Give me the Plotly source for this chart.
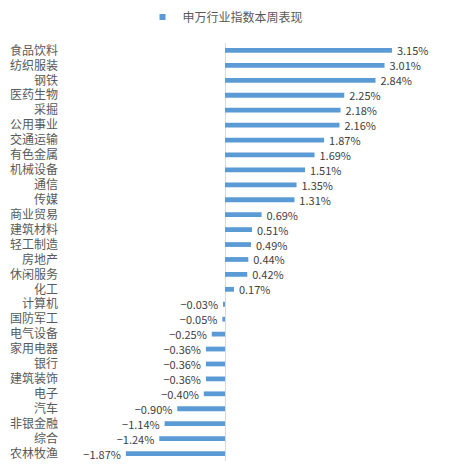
import plotly.graph_objects as go

# 申万行业指数本周表现 (%)
industries = ['食品饮料', '纺织服装', '钢铁', '医药生物', '采掘', '公用事业', '交通运输',
              '有色金属', '机械设备', '通信', '传媒', '商业贸易', '建筑材料', '轻工制造',
              '房地产', '休闲服务', '化工', '计算机', '国防军工', '电气设备', '家用电器',
              '银行', '建筑装饰', '电子', '汽车', '非银金融', '综合', '农林牧渔']
weekly_pct = [3.15, 3.01, 2.84, 2.25, 2.18, 2.16, 1.87,
              1.69, 1.51, 1.35, 1.31, 0.69, 0.51, 0.49,
              0.44, 0.42, 0.17, -0.03, -0.05, -0.25, -0.36,
              -0.36, -0.36, -0.40, -0.90, -1.14, -1.24, -1.87]
series_name = '申万行业指数本周表现'

cjk = 'Noto Sans CJK SC'
blue = '#5B9BD5'

# labels with a long minus sign and a bit of air between bar end and text
labels = []
for v in weekly_pct:
    s = f'{v:.2f}%'.replace('-', '\u2212')
    labels.append('  ' + s if v >= 0 else s + '  ')

trace = go.Bar(x=weekly_pct, y=industries, orientation='h', name=series_name,
               marker=dict(color=blue, line=dict(width=0)), width=0.32,
               text=labels, texttemplate='%{text}', textposition='outside', cliponaxis=False,
               constraintext='none', showlegend=False,
               textfont=dict(family=cjk, size=11, color='#404040'))

# small square legend marker, like the Excel original
legend_item = go.Scatter(x=[None], y=[None], mode='markers', name=series_name,
                         marker=dict(symbol='square', size=6, color=blue))

# page body has an 8px margin, so the figure is a bit smaller than the window
layout = go.Layout(
    width=443, height=468,
    margin=dict(l=58, r=14, t=35, b=15, autoexpand=False),
    paper_bgcolor='white', plot_bgcolor='white',
    font=dict(family=cjk, size=12, color='#595959'),
    showlegend=True,
    legend=dict(orientation='h', x=0.43, xanchor='center', y=1.062, yanchor='middle',
                font=dict(family=cjk, size=12, color='#595959'), itemwidth=30),
    xaxis=dict(range=[-3, 4], showgrid=False, showticklabels=False, ticks='',
               zeroline=True, zerolinecolor='#D9D9D9', zerolinewidth=1),
    yaxis=dict(autorange='reversed', showgrid=False, ticks='', showline=False,
               ticklabelstandoff=7, tickfont=dict(family=cjk, size=12, color='#595959')),
)

fig = go.Figure(data=[trace, legend_item], layout=layout)
fig.write_html('out.html')
